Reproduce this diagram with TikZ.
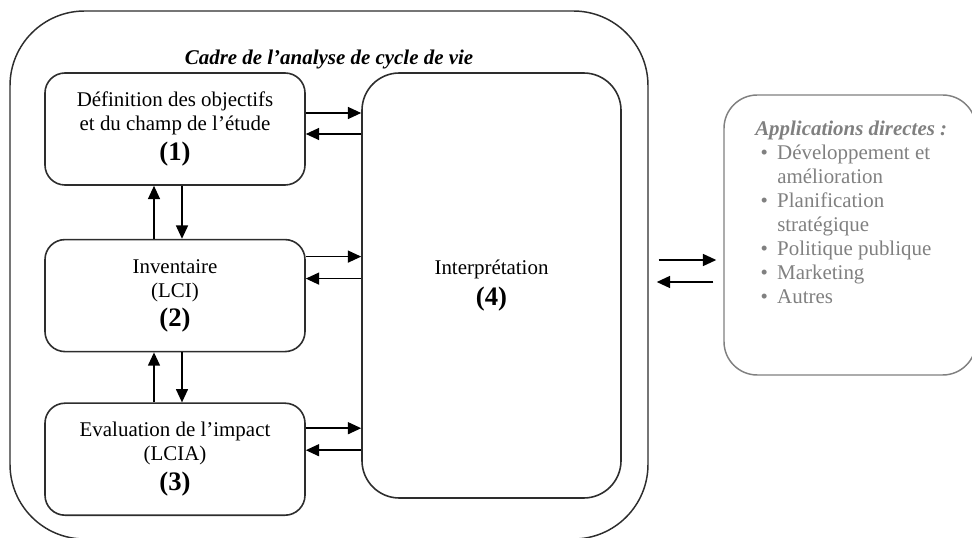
\documentclass[tikz,border=0pt]{standalone}
\usepackage{fontspec}
\setmainfont{Liberation Serif}
\usepackage{tikz}
\usetikzlibrary{arrows.meta,positioning}
\definecolor{acvline}{RGB}{45,45,45}
\definecolor{acvgray}{RGB}{128,128,128}
\tikzstyle{arrow} = [line width=1.1pt,-{Triangle[length=10pt,width=9pt]},color=black]
\tikzstyle{framebox} = [rectangle, rounded corners=56pt, minimum width=478.5pt, minimum height=396pt, draw=acvline, line width=1.1pt, inner sep=0pt]
\tikzstyle{stagebox} = [rectangle, rounded corners=15pt, minimum width=195pt, minimum height=84pt, align=center, draw=acvline, line width=1.2pt, inner sep=0pt]
\tikzstyle{interpbox} = [rectangle, rounded corners=28pt, minimum width=194.25pt, minimum height=318.75pt, align=center, draw=acvline, line width=1.2pt, inner sep=0pt]
\tikzstyle{appbox} = [rectangle, rounded corners=25pt, minimum width=189pt, minimum height=210pt, draw=acvgray, line width=1.1pt, inner sep=0pt]
\newcommand{\stagenum}[1]{{\fontsize{20}{24}\selectfont\bfseries #1}}

\begin{document}
\begin{tikzpicture}[x=0.75pt,y=-0.75pt,font=\fontsize{15.7}{18}\selectfont]
\useasboundingbox (0,0) rectangle (972,538);
\node[framebox] (frame) at (329,275) {};
\node[font=\fontsize{15.7}{18}\selectfont\bfseries\itshape] (cadre) at (329,60) {Cadre de l’analyse de cycle de vie};

\node[stagebox] (def) at (175,129) {Définition des objectifs\\et du champ de l’étude\\[5pt]\stagenum{(1)}};
\node[stagebox, below=39.75pt of def] (inv) {Inventaire\\(LCI)\\[4pt]\stagenum{(2)}};
\node[stagebox, below=37.5pt of inv] (eval) {Evaluation de l’impact\\(LCIA)\\[4pt]\stagenum{(3)}};
\node[interpbox] (interp) at (491.5,285.5) {Interprétation\\[5pt]\stagenum{(4)}};

\node[appbox] (appli) at (850,235) {};
\node[anchor=north west, inner sep=0pt, color=acvgray] (applist) at (755,118) {%
\begin{tabular}{@{\hspace{4pt}}l@{\hspace{7pt}}l@{}}
\multicolumn{2}{@{}l}{\bfseries\itshape Applications directes :}\\
\textbullet & Développement et\\
 & amélioration\\
\textbullet & Planification\\
 & stratégique\\
\textbullet & Politique publique\\
\textbullet & Marketing\\
\textbullet & Autres
\end{tabular}};

\draw[arrow] ([yshift=12pt]def.east) -- ([yshift=12pt]def.east -| interp.west);
\draw[arrow] ([yshift=-3.75pt]def.east -| interp.west) -- ([yshift=-3.75pt]def.east);
\draw[arrow] ([yshift=29.25pt]inv.east) -- ([yshift=29.25pt]inv.east -| interp.west);
\draw[arrow] ([yshift=12.75pt]inv.east -| interp.west) -- ([yshift=12.75pt]inv.east);
\draw[arrow] ([yshift=23.25pt]eval.east) -- ([yshift=23.25pt]eval.east -| interp.west);
\draw[arrow] ([yshift=6.75pt]eval.east -| interp.west) -- ([yshift=6.75pt]eval.east);

\draw[arrow] ([xshift=-15.75pt]inv.north) -- ([xshift=-15.75pt]def.south);
\draw[arrow] ([xshift=5.25pt]def.south) -- ([xshift=5.25pt]inv.north);
\draw[arrow] ([xshift=-15.75pt]eval.north) -- ([xshift=-15.75pt]inv.south);
\draw[arrow] ([xshift=5.25pt]inv.south) -- ([xshift=5.25pt]eval.north);

\draw[arrow, shorten <=7.5pt, shorten >=5.25pt] ([yshift=11.25pt]frame.east) -- ([yshift=11.25pt]frame.east -| appli.west);
\draw[arrow, shorten <=7.5pt, shorten >=6pt] ([yshift=-5.25pt]frame.east -| appli.west) -- ([yshift=-5.25pt]frame.east);
\end{tikzpicture}
\end{document}
